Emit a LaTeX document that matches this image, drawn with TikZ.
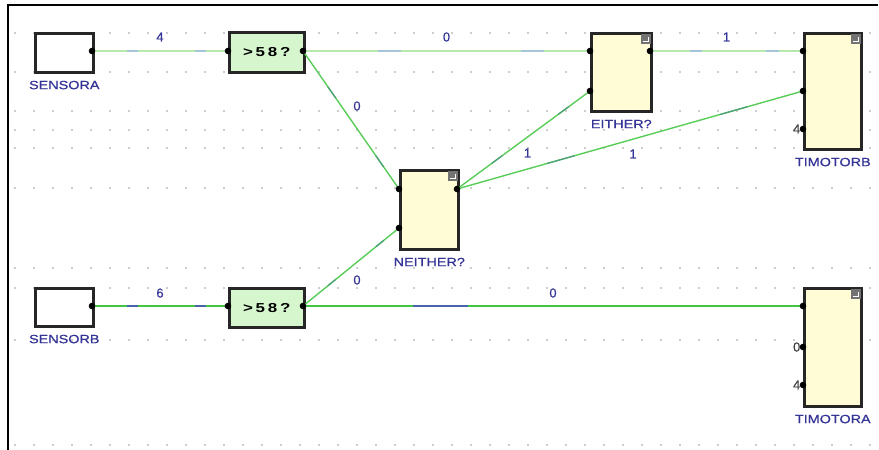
\documentclass[tikz,border=0pt]{standalone}
\usepackage{fontspec}
\usetikzlibrary{calc}
\setmainfont{Liberation Sans}
\newfontfamily\tagfont[FakeStretch=1.2,FakeBold=0.6]{Liberation Sans}
\newfontfamily\numfont[FakeBold=0.6]{Liberation Sans}
\newfontfamily\cmpfont[FakeStretch=1.3,LetterSpace=22]{Liberation Sans}

\definecolor{boxline}{RGB}{38,38,38}
\definecolor{labelblue}{RGB}{52,52,150}
\definecolor{wirepale}{RGB}{182,234,172}
\definecolor{wirebright}{RGB}{64,198,64}
\definecolor{wirediag}{RGB}{88,205,88}
\definecolor{flowpale}{RGB}{168,196,218}
\definecolor{flowdark}{RGB}{72,100,170}
\definecolor{gridgray}{RGB}{205,205,205}
\definecolor{cmpfill}{RGB}{214,246,206}
\definecolor{logicfill}{RGB}{255,252,214}

\tikzset{
  block/.style={draw=boxline, line width=2.6pt, inner sep=0pt, anchor=north west},
  sensorbox/.style={block, fill=white},
  cmpbox/.style={block, fill=cmpfill, font=\cmpfont\bfseries\fontsize{13}{13}\selectfont},
  logicbox/.style={block, fill=logicfill},
  blockname/.style={anchor=north, inner sep=0pt, text=labelblue, font=\tagfont\fontsize{12}{12}\selectfont, yshift=-7pt},
  val/.style={inner sep=0pt, text=labelblue, font=\numfont\fontsize{13}{13}\selectfont},
  portval/.style={anchor=east, inner sep=0pt, xshift=-2.5pt, text=black!75, font=\numfont\fontsize{13}{13}\selectfont},
  pale/.style={draw=wirepale, line width=2pt},
  bright/.style={draw=wirebright, line width=1.8pt},
  diag/.style={draw=wirediag, line width=1.4pt},
  port/.style={fill=black},
  flag/.style={fill=black!55},
}

% two short value-flow marks along a wire
\newcommand\flowmarks[4]{%
  \draw[#3, line width=#4] ($(#1)!0.26!(#2)$) -- ($(#1)!0.34!(#2)$);
  \draw[#3, line width=#4] ($(#1)!0.76!(#2)$) -- ($(#1)!0.84!(#2)$);
}

\begin{document}
\begin{tikzpicture}[x=1pt,y=-1pt]
\useasboundingbox (0,0) rectangle (879,450);

% background grid of dots
\foreach \gy in {33,72,111,130,148,188,268,288,340,445}
  \foreach \gx in {15,34,...,875}
    \fill[gridgray] (\gx-1.2,\gy-0.8) rectangle (\gx+1.2,\gy+0.8);

% sheet frame
\draw[line width=2.5pt, black] (8,450) -- (8,5) -- (878,5);

% blocks
\node[sensorbox, minimum width=58pt, minimum height=39pt] (sa) at (34,32) {};
\node[cmpbox, minimum width=75pt, minimum height=40pt] (ca) at (228,31) {>58?};
\node[logicbox, minimum width=60pt, minimum height=78pt] (either) at (590,32) {};
\node[logicbox, minimum width=57pt, minimum height=116pt] (tmb) at (803,32) {};
\node[logicbox, minimum width=58pt, minimum height=79pt] (neither) at (399,169) {};
\node[sensorbox, minimum width=58pt, minimum height=38pt] (sb) at (34,287) {};
\node[cmpbox, minimum width=75pt, minimum height=39pt] (cb) at (228,287) {>58?};
\node[logicbox, minimum width=57pt, minimum height=118pt] (tma) at (803,287) {};

% block names
\node[blockname] (sa-name) at (sa.south) {SENSORA};
\node[blockname] (sb-name) at (sb.south) {SENSORB};
\node[blockname] (either-name) at (either.south) {EITHER?};
\node[blockname] (neither-name) at (neither.south) {NEITHER?};
\node[blockname] (tmb-name) at (tmb.south) {TIMOTORB};
\node[blockname] (tma-name) at (tma.south) {TIMOTORA};

% corner flags on the logic blocks
\foreach \b in {either,tmb,neither,tma}{
  \fill[flag] ($(\b.north east)+(-12,1.5)$) rectangle ($(\b.north east)+(-1.5,12)$);
  \draw[white, line width=0.8pt] ($(\b.north east)+(-9.5,9)$) -- ($(\b.north east)+(-4,9)$) -- ($(\b.north east)+(-4,4.5)$);
}

% ports
\coordinate (sa-o) at (92,51);
\coordinate (ca-i) at (228,51);
\coordinate (ca-o) at (303,51);
\coordinate (either-i1) at (590,51);
\coordinate (either-i2) at (590,91);
\coordinate (either-o) at (650,51);
\coordinate (tmb-i1) at (803,51);
\coordinate (tmb-i2) at (803,91);
\coordinate (tmb-i3) at (803,129);
\coordinate (neither-i1) at (399,189);
\coordinate (neither-i2) at (399,228);
\coordinate (neither-o) at (457,189);
\coordinate (sb-o) at (92,306);
\coordinate (cb-i) at (228,306);
\coordinate (cb-o) at (303,306);
\coordinate (tma-i1) at (803,306);
\coordinate (tma-i2) at (803,347);
\coordinate (tma-i3) at (803,385);

% wires
\draw[pale] (sa-o) -- node[val, yshift=14pt] {4} (ca-i);
\draw[pale] (ca-o) -- node[val, yshift=14pt] {0} (either-i1);
\draw[pale] (either-o) -- node[val, yshift=14pt] {1} (tmb-i1);
\draw[diag] (ca-o) -- node[val, xshift=6pt, yshift=14pt] {0} (neither-i1);
\draw[diag] (neither-o) -- node[val, xshift=4pt, yshift=-13pt] {1} (either-i2);
\draw[diag] (neither-o) -- node[val, xshift=3pt, yshift=-14pt] {1} (tmb-i2);
\draw[bright] (sb-o) -- node[val, yshift=13pt] {6} (cb-i);
\draw[diag] (cb-o) -- node[val, xshift=6pt, yshift=-13pt] {0} (neither-i2);
\draw[bright] (cb-o) -- node[val, yshift=13pt] {0} (tma-i1);

% value-flow marks on the wires
\flowmarks{sa-o}{ca-i}{flowpale}{1.8pt}
\flowmarks{ca-o}{either-i1}{flowpale}{1.8pt}
\flowmarks{either-o}{tmb-i1}{flowpale}{1.8pt}
\flowmarks{ca-o}{neither-i1}{flowdark!45!wirediag}{1.2pt}
\flowmarks{neither-o}{either-i2}{flowdark!45!wirediag}{1.2pt}
\flowmarks{neither-o}{tmb-i2}{flowdark!45!wirediag}{1.2pt}
\flowmarks{sb-o}{cb-i}{flowdark}{1.6pt}
\flowmarks{cb-o}{neither-i2}{flowdark!45!wirediag}{1.2pt}
\draw[flowdark, line width=1.6pt] ($(cb-o)!0.22!(tma-i1)$) -- ($(cb-o)!0.33!(tma-i1)$);

% port dots
\foreach \p in {sa-o,ca-i,ca-o,either-i1,either-i2,either-o,tmb-i1,tmb-i2,tmb-i3,
  neither-i1,neither-i2,neither-o,sb-o,cb-i,cb-o,tma-i1,tma-i2,tma-i3}
  \fill[port] (\p) circle (3.3pt);

% constant inputs
\node[portval] (tmb-k) at (tmb-i3) {4};
\node[portval] (tma-k1) at (tma-i2) {0};
\node[portval] (tma-k2) at (tma-i3) {4};
\end{tikzpicture}
\end{document}
